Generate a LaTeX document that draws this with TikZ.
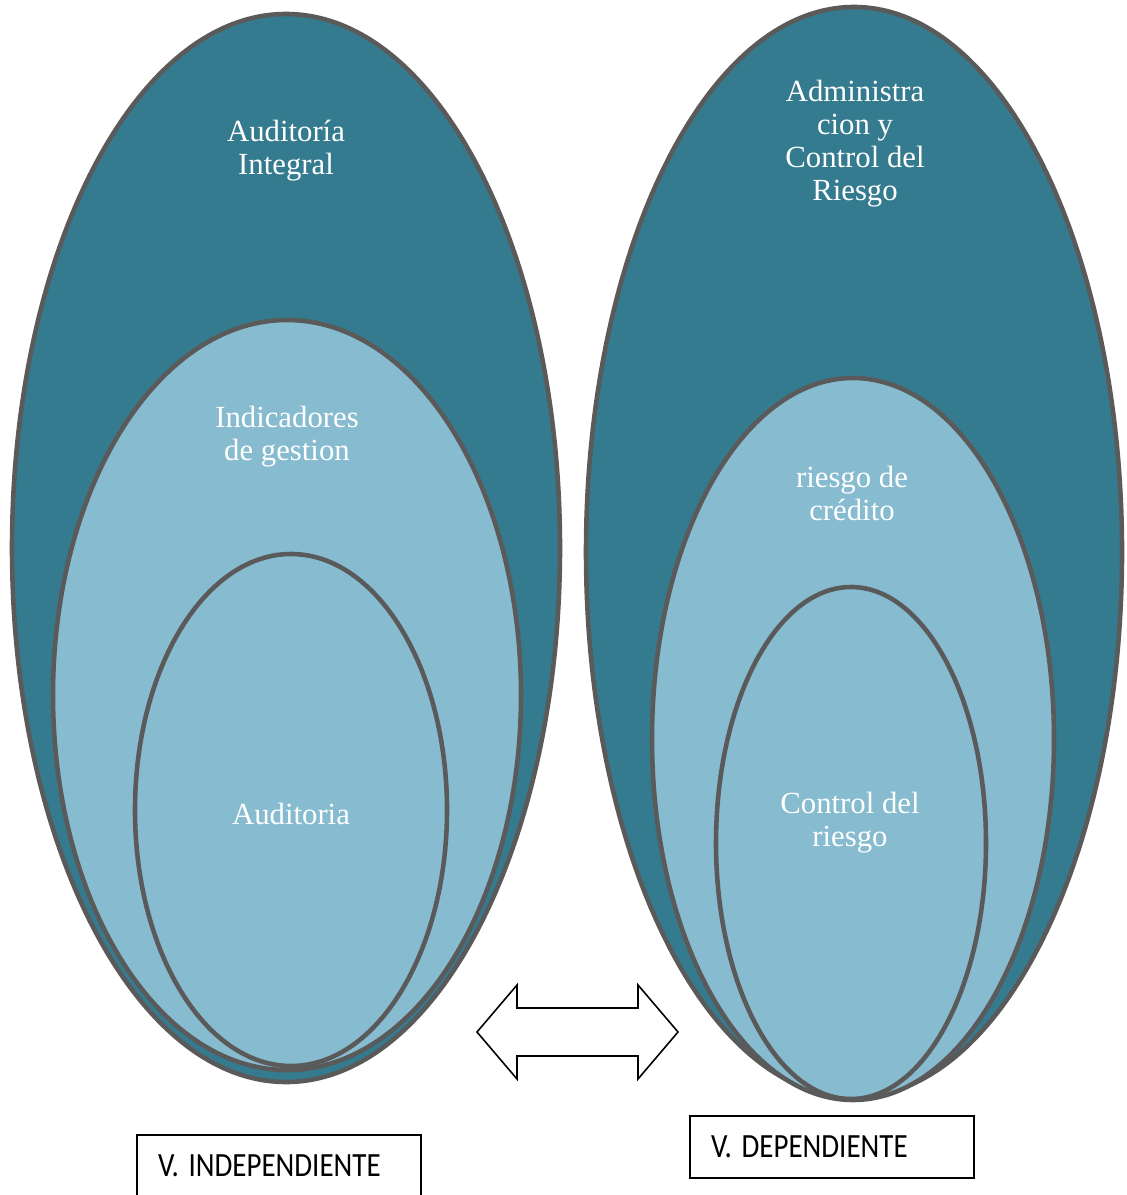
\documentclass[tikz,border=0pt]{standalone}
\usepackage{fontspec}
\setmainfont{Liberation Serif}
\newfontfamily\boxfont{Carlito}
\usetikzlibrary{positioning}

\definecolor{tealdark}{HTML}{357B8F}
\definecolor{bluelight}{HTML}{87BBD0}
\definecolor{rimgray}{HTML}{5A5A5A}

\newcommand{\tallcaps}[1]{\scalebox{1}[1.17]{#1}}

\begin{document}
\begin{tikzpicture}[
    x=0.02cm, y=-0.02cm,
    outer/.style={fill=tealdark, draw=rimgray, line width=2.6pt},
    inner/.style={fill=bluelight, draw=rimgray, line width=2.6pt},
    caption/.style={text=white, align=center, font=\fontsize{17.5}{18.8}\selectfont},
    varbox/.style={rectangle, draw=black, line width=1.1pt, minimum width=5.68cm,
                   minimum height=1.24cm, text width=4.84cm, inner xsep=0.42cm,
                   align=left, font=\boxfont\fontsize{16.5}{18}\selectfont},
    arrow/.style={draw=black, line width=0.9pt, fill=white}
]
\clip (0,0) rectangle (1126,1195);
\fill[white] (0,0) rectangle (1126,1195);

% Independent variable
\draw[outer] (286,548) ellipse [x radius=274, y radius=534];
\draw[inner] (287,695) ellipse [x radius=234, y radius=375];
\draw[inner] (291,810) ellipse [x radius=156, y radius=256];
\node[caption] (audint) at (286,151) {Auditoría\\Integral};
\node[caption] (indic) at (287,437) {Indicadores\\de gestion};
\node[caption] (audit) at (291,814) {Auditoria};

% Dependent variable
\draw[outer] (854,552) ellipse [x radius=268, y radius=545];
\draw[inner] (853,739) ellipse [x radius=201, y radius=361];
\draw[inner] (851,843) ellipse [x radius=135, y radius=256];
\node[caption] (admin) at (855,144) {Administra\\cion y\\Control del\\Riesgo};
\node[caption] (credit) at (852,493) {riesgo de\\crédito};
\node[caption] (ctrl) at (850,823) {Control del\\riesgo};

% Double arrow between both groups
\draw[arrow] (477,1032) -- (517,985) -- (517,1008) -- (638,1008) -- (638,985)
    -- (678,1032) -- (638,1079) -- (638,1056) -- (517,1056) -- (517,1079) -- cycle;

% Labels
\node[varbox] (indep) at (279,1166) {\tallcaps{V. INDEPENDIENTE}};
\node[varbox] (dep) at (832,1147) {\tallcaps{V. DEPENDIENTE}};

\end{tikzpicture}
\end{document}
